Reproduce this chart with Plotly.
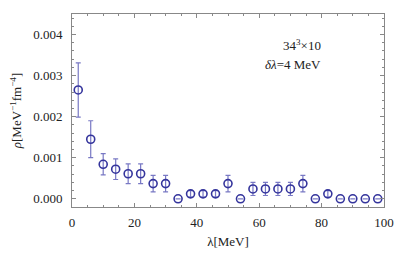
import plotly.graph_objects as go

lam = [2, 6, 10, 14, 18, 22, 26, 30, 34, 38, 42, 46, 50, 54, 58, 62, 66, 70, 74, 78, 82, 86, 90, 94, 98]
rho = [0.00265, 0.00145, 0.00084, 0.00072, 0.00061, 0.00061, 0.00037, 0.00037, 0.0, 0.00012, 0.00012, 0.00012,
       0.00037, 0.0, 0.00024, 0.00024, 0.00024, 0.00024, 0.00037, 0.0, 0.00012, 0.0, 0.0, 0.0, 0.0]
err = [0.00066, 0.00045, 0.00026, 0.00025, 0.00024, 0.00024, 0.0002, 0.0002, 0.0, 0.00008, 0.00008, 0.00008,
       0.0002, 0.0, 0.00016, 0.00016, 0.00016, 0.00016, 0.0002, 0.0, 0.00008, 0.0, 0.0, 0.0, 0.0]

xticks = [0, 20, 40, 60, 80, 100]
yticks = [0.0, 0.001, 0.002, 0.003, 0.004]
ylabels = ["0.000", "0.001", "0.002", "0.003", "0.004"]

font = dict(family="Liberation Serif", size=13, color="#222")

fig = go.Figure()
fig.add_trace(go.Scatter(
    x=lam, y=rho, mode="markers",
    marker=dict(symbol="circle-open", size=8, color="#34349c", line=dict(width=1.6, color="#34349c")),
    error_y=dict(type="data", array=err, visible=True, color="#7878c4", thickness=1.2, width=2.5),
    showlegend=False,
))

axis_common = dict(
    showgrid=False, zeroline=False, showline=True, linecolor="#888", linewidth=1,
    mirror="ticks", ticks="inside", ticklen=4, tickcolor="#888", tickwidth=0.8,
    tickfont=font,
)
fig.update_xaxes(range=[0, 100], tickvals=xticks, ticktext=[str(v) for v in xticks],
                 minor=dict(dtick=5, ticks="inside", ticklen=2, tickcolor="#888"),
                 ticklabelstandoff=3,
                 title=dict(text="λ[MeV]", font=font, standoff=8), **axis_common)
fig.update_yaxes(range=[-0.0002, 0.0045], tickvals=yticks, ticktext=ylabels,
                 minor=dict(dtick=0.0002, ticks="inside", ticklen=2, tickcolor="#888"),
                 ticklabelstandoff=6,
                 title=dict(text="<i>ρ</i>[MeV<sup>−1</sup>fm<sup>−4</sup>]", font=font, standoff=8), **axis_common)

fig.add_annotation(x=0.805, y=0.89, xref="paper", yref="paper", showarrow=False,
                   text="34<sup>3</sup>×10", font=font)
fig.add_annotation(x=0.805, y=0.79, xref="paper", yref="paper", showarrow=False,
                   text="<i>δλ</i>=4 MeV", font=font)

fig.update_layout(width=401, height=251, margin=dict(l=64, r=25, t=6, b=52),
                  paper_bgcolor="white", plot_bgcolor="white", font=font)
fig.write_html("out.html")
